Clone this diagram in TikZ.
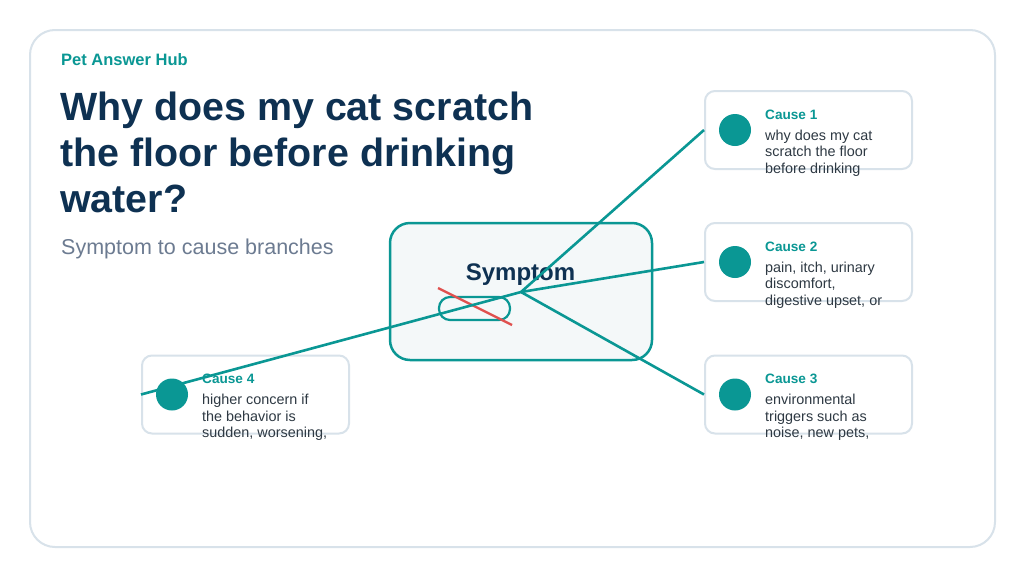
\documentclass[tikz,border=0pt]{standalone}
\usepackage{fontspec}
\setmainfont{Liberation Sans}
\usetikzlibrary{positioning,calc}
\definecolor{hubteal}{HTML}{0A9794}
\definecolor{titlenavy}{HTML}{0E3152}
\definecolor{subgrey}{HTML}{6C7B91}
\definecolor{bodytext}{HTML}{2E3943}
\definecolor{cardline}{HTML}{D8E2EA}
\definecolor{symfill}{HTML}{F4F8F9}
\definecolor{crossred}{HTML}{E0514F}
\newcommand{\causecard}[4]{%
  \node[card] (#1) at (#2) {};
  \node[causehead] (#1head) at ([xshift=61pt,yshift=-29pt]#1.north west) {#3};
  \node[causebody] (#1body) at ([xshift=61pt,yshift=-83.4pt]#1.north west) {#4};}

\begin{document}
\begin{tikzpicture}[x=1pt, y=-1pt,
    card/.style={draw=cardline, line width=2pt, fill=white, rounded corners=10pt,
      minimum width=207pt, minimum height=78pt, inner sep=0pt},
    causehead/.style={anchor=base west, inner sep=0pt, text=hubteal,
      font=\fontsize{13.6}{16}\selectfont\bfseries},
    causebody/.style={anchor=base west, inner sep=0pt, align=left, text=bodytext,
      font=\fontsize{14.4}{16.7}\selectfont},
    dot/.style={circle, fill=hubteal, minimum size=32pt, inner sep=0pt},
    branch/.style={draw=hubteal, line width=2.6pt}]
  \useasboundingbox[fill=white] (0,0) rectangle (1024,576);
  \draw[draw=cardline, line width=2pt, fill=white, rounded corners=25pt] (30,30) rectangle (995,547);
  \node[anchor=base west, inner sep=0pt, text=hubteal, font=\fontsize{16.5}{20}\selectfont\bfseries]
    (brand) at (61,65) {Pet Answer Hub};
  \node[anchor=base west, inner sep=0pt, align=left, text=titlenavy, font=\fontsize{39.4}{46}\selectfont\bfseries]
    (title) at (60,212) {Why does my cat scratch\\the floor before drinking\\water?};
  \node[anchor=base west, inner sep=0pt, text=subgrey, font=\fontsize{21.5}{25}\selectfont]
    (subtitle) at (61,254) {Symptom to cause branches};
  \node[draw=hubteal, line width=2.5pt, fill=symfill, rounded corners=20pt,
    minimum width=262pt, minimum height=137pt] (sym) at (521,291.5) {};
  \node[anchor=base, inner sep=0pt, text=titlenavy, font=\fontsize{24}{28}\selectfont\bfseries]
    (symlabel) at (520.5,280) {Symptom};
  \node[draw=hubteal, line width=2.2pt, rounded corners=11pt,
    minimum width=71pt, minimum height=23pt, inner sep=0pt] (pill) at (474.5,308.5) {};
  \coordinate (r1) at (438,288);
  \coordinate (r2) at (512,325);
  \draw[crossred, line width=2.4pt] (r1) -- (r2);
  \causecard{c1}{808.5,130}{Cause 1}{why does my cat\\scratch the floor\\before drinking}
  \causecard{c2}{808.5,262}{Cause 2}{pain, itch, urinary\\discomfort,\\digestive upset, or}
  \causecard{c3}{808.5,394.5}{Cause 3}{environmental\\triggers such as\\noise, new pets,}
  \causecard{c4}{245.5,394.5}{Cause 4}{higher concern if\\the behavior is\\sudden, worsening,}
  \coordinate (hub) at (521,292);
  \foreach \c in {c1,c2,c3,c4}
    \draw[branch] (hub) -- (\c.west);
  \foreach \c in {c1,c2,c3,c4}
    \node[dot] (\c dot) at ([xshift=31pt]\c.west) {};
\end{tikzpicture}
\end{document}
